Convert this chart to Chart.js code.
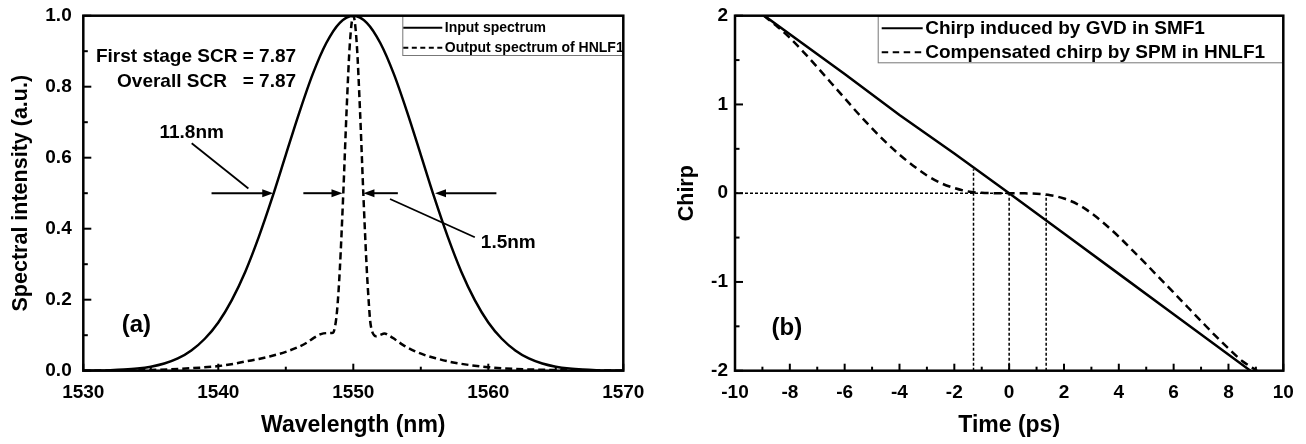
<!DOCTYPE html>
<html>
<head>
<meta charset="utf-8">
<script src="https://cdn.jsdelivr.net/npm/chart.js@4.4.0/dist/chart.umd.min.js"></script>
<style>
  html, body { margin: 0; padding: 0; background: #fff; }
  #wrap { position: relative; width: 1306px; height: 444px; }
  canvas { position: absolute; top: 0; }
  #graficoA { left: 0; }
  #graficoB { left: 653px; }
</style>
</head>
<body>
<div id="wrap">
  <canvas id="graficoA" width="653" height="444"></canvas>
  <canvas id="graficoB" width="653" height="444"></canvas>
</div>
<script>
// ---- dados do painel (a) ----
const inputWavelength = [1530, 1531, 1532, 1533, 1534, 1535, 1536, 1537, 1538, 1539, 1540,
  1541, 1542, 1543, 1544, 1545, 1546, 1547, 1548, 1549, 1550,
  1551, 1552, 1553, 1554, 1555, 1556, 1557, 1558, 1559, 1560,
  1561, 1562, 1563, 1564, 1565, 1566, 1567, 1568, 1569, 1570];
const inputIntensity = [0.0003, 0.0008, 0.0016, 0.0032, 0.0061, 0.0113, 0.0202, 0.0345, 0.057, 0.090, 0.136,
  0.199, 0.279, 0.377, 0.488, 0.608, 0.727, 0.836, 0.923, 0.980, 1.0,
  0.980, 0.923, 0.836, 0.727, 0.608, 0.488, 0.377, 0.279, 0.199, 0.136,
  0.090, 0.057, 0.0345, 0.0202, 0.0113, 0.0061, 0.0032, 0.0016, 0.0008, 0.0003];

const outputWavelength = [1530, 1532, 1534, 1535, 1536.5, 1538.6, 1540, 1541.1, 1542, 1543, 1543.8,
  1545, 1546, 1546.6, 1547.1, 1547.6, 1548.1, 1548.5, 1548.65, 1548.8, 1549, 1549.25, 1549.5, 1549.75,
  1550, 1550.25, 1550.5, 1550.75, 1551, 1551.15, 1551.25, 1551.4, 1551.7, 1552.0, 1552.3, 1552.7,
  1553.1, 1553.7, 1554.5, 1555.3, 1556.1, 1557.3, 1558.6, 1560, 1561.1, 1563, 1564.8, 1567, 1570];
const outputIntensity = [0.0, 0.0005, 0.0015, 0.002, 0.004, 0.0085, 0.013, 0.019, 0.026, 0.033, 0.040,
  0.053, 0.068, 0.080, 0.093, 0.103, 0.106, 0.107, 0.125, 0.17, 0.284, 0.492, 0.73, 0.924,
  1.0, 0.924, 0.73, 0.492, 0.284, 0.19, 0.14, 0.11, 0.097, 0.101, 0.105, 0.098,
  0.088, 0.072, 0.056, 0.044, 0.035, 0.024, 0.016, 0.010, 0.0067, 0.0035, 0.002, 0.0008, 0.0];

const labelsA = ['Input spectrum', 'Output spectrum of HNLF1'];

// setas de largura a meia altura (y = 0.5): [inicio, ponta]
const halfMax = 0.5;
const fwhmArrows = [[1539.5, 1544.07], [1546.3, 1549.2], [1553.3, 1550.75], [1560.6, 1556.05]];
// linhas de chamada: [x1, y1, x2, y2]
const leaderLines = [[1538.03, 0.6406, 1542.23, 0.5133], [1552.72, 0.4837, 1559.0, 0.3758]];
const notesA = [
  { text: 'First stage SCR = 7.87', x: 1545.76, y: 0.8845, align: 'right', size: 19 },
  { text: 'Overall SCR   = 7.87', x: 1545.76, y: 0.814, align: 'right', size: 19 },
  { text: '11.8nm', x: 1538.03, y: 0.6696, align: 'center', size: 19 },
  { text: '1.5nm', x: 1561.48, y: 0.3606, align: 'center', size: 19 },
  { text: '(a)', x: 1533.93, y: 0.1287, align: 'center', size: 24 }
];

// ---- dados do painel (b) ----
const gvdTime = [-8.93, -6, -4, -2, 0, 2, 4, 6, 8.8];
const gvdChirp = [2.0, 1.343, 0.88, 0.448, 0.0, -0.455, -0.909, -1.364, -2.0];

const spmTime = [-8.95, -8.5, -8, -7.5, -7, -6.5, -6, -5.5, -5, -4.5, -4, -3.5, -3, -2.5, -2, -1.5, -1, -0.5,
  0, 0.5, 1, 1.5, 2, 2.5, 3, 3.5, 4, 4.5, 5, 5.5, 6, 6.5, 7, 7.5, 8, 8.5, 9.04];
const spmChirp = [2.0, 1.89, 1.75, 1.59, 1.42, 1.245, 1.07, 0.895, 0.73, 0.575, 0.435, 0.31, 0.20, 0.115, 0.058, 0.02, 0.004, 0.0005,
  0.0, -0.001, -0.006, -0.022, -0.06, -0.125, -0.225, -0.35, -0.49, -0.645, -0.80, -0.96, -1.12, -1.28, -1.44, -1.60, -1.75, -1.89, -2.0];

const labelsB = ['Chirp induced by GVD in SMF1', 'Compensated chirp by SPM in HNLF1'];

// linhas pontilhadas de referencia: [x1, y1, x2, y2]
const guideLines = [[-10, 0, 0, 0], [-1.3, -2, -1.3, 0.27], [0, -2, 0, 0], [1.35, -2, 1.35, -0.02]];
const notesB = [{ text: '(b)', x: -8.11, y: -1.518, align: 'center', size: 24 }];

const fonte = '"Liberation Sans", Arial, sans-serif';
Chart.defaults.font.family = fonte;
Chart.defaults.font.weight = 'bold';
Chart.defaults.color = '#000';

function pontos(xs, ys) {
  return xs.map((x, i) => ({ x: x, y: ys[i] }));
}

function linha(ctx, x1, y1, x2, y2) {
  ctx.beginPath();
  ctx.moveTo(x1, y1);
  ctx.lineTo(x2, y2);
  ctx.stroke();
}

// marcas para dentro + moldura
const marcasInternas = {
  id: 'marcasInternas',
  afterDatasetsDraw(chart) {
    const ctx = chart.ctx;
    const area = chart.chartArea;
    const sx = chart.scales.x;
    const sy = chart.scales.y;
    ctx.save();
    ctx.strokeStyle = '#000';
    ctx.lineWidth = 2;
    ctx.setLineDash([]);
    const xt = sx.ticks.map(t => t.value);
    xt.forEach((v, i) => {
      const px = sx.getPixelForValue(v);
      linha(ctx, px, area.bottom, px, area.bottom - 7);
      if (i < xt.length - 1) {
        const pm = sx.getPixelForValue((v + xt[i + 1]) / 2);
        linha(ctx, pm, area.bottom, pm, area.bottom - 4);
      }
    });
    const yt = sy.ticks.map(t => t.value);
    yt.forEach((v, i) => {
      const py = sy.getPixelForValue(v);
      linha(ctx, area.left, py, area.left + 8, py);
      if (i < yt.length - 1) {
        const pm = sy.getPixelForValue((v + yt[i + 1]) / 2);
        linha(ctx, area.left, pm, area.left + 4.5, pm);
      }
    });
    ctx.restore();
  },
  afterDraw(chart) {
    const ctx = chart.ctx;
    const area = chart.chartArea;
    ctx.save();
    ctx.strokeStyle = '#000';
    ctx.lineWidth = 2.5;
    ctx.setLineDash([]);
    ctx.strokeRect(area.left, area.top, area.right - area.left, area.bottom - area.top);
    ctx.restore();
  }
};

// legenda desenhada dentro da area do grafico
const legendaInterna = {
  id: 'legendaInterna',
  afterDatasetsDraw(chart, args, opts) {
    const ctx = chart.ctx;
    const area = chart.chartArea;
    const x0 = area.right - opts.width;
    const y0 = area.top;
    ctx.save();
    ctx.fillStyle = '#fff';
    ctx.fillRect(x0, y0, opts.width, opts.height);
    ctx.strokeStyle = '#777';
    ctx.lineWidth = 1;
    ctx.strokeRect(x0 + 0.5, y0 + 0.5, opts.width - 1, opts.height - 1);
    ctx.font = 'bold ' + opts.size + 'px ' + fonte;
    ctx.textAlign = 'left';
    ctx.textBaseline = 'middle';
    chart.data.datasets.forEach((ds, i) => {
      const yy = y0 + opts.rows[i];
      ctx.strokeStyle = '#000';
      ctx.lineWidth = 2;
      ctx.setLineDash(opts.dashes[i]);
      linha(ctx, x0 + opts.sample[0], yy, x0 + opts.sample[1], yy);
      ctx.setLineDash([]);
      ctx.fillStyle = '#000';
      ctx.fillText(ds.label, x0 + opts.textX, yy);
    });
    ctx.restore();
  }
};

function seta(ctx, x1, y, x2) {
  const dir = x2 > x1 ? 1 : -1;
  linha(ctx, x1, y, x2 - dir * 8, y);
  ctx.beginPath();
  ctx.moveTo(x2, y);
  ctx.lineTo(x2 - dir * 11, y - 4);
  ctx.lineTo(x2 - dir * 11, y + 4);
  ctx.closePath();
  ctx.fill();
}

function textos(chart, notas) {
  const ctx = chart.ctx;
  const sx = chart.scales.x;
  const sy = chart.scales.y;
  ctx.fillStyle = '#000';
  ctx.textBaseline = 'middle';
  notas.forEach(n => {
    ctx.font = 'bold ' + n.size + 'px ' + fonte;
    ctx.textAlign = n.align;
    ctx.fillText(n.text, sx.getPixelForValue(n.x), sy.getPixelForValue(n.y));
  });
}

const anotacoesA = {
  id: 'anotacoesA',
  afterDatasetsDraw(chart) {
    const ctx = chart.ctx;
    const sx = chart.scales.x;
    const sy = chart.scales.y;
    ctx.save();
    ctx.strokeStyle = '#000';
    ctx.fillStyle = '#000';
    ctx.lineWidth = 2;
    const py = sy.getPixelForValue(halfMax);
    fwhmArrows.forEach(a => seta(ctx, sx.getPixelForValue(a[0]), py, sx.getPixelForValue(a[1])));
    ctx.lineWidth = 1.8;
    leaderLines.forEach(l => linha(ctx, sx.getPixelForValue(l[0]), sy.getPixelForValue(l[1]),
      sx.getPixelForValue(l[2]), sy.getPixelForValue(l[3])));
    textos(chart, notesA);
    ctx.restore();
  }
};

const anotacoesB = {
  id: 'anotacoesB',
  beforeDatasetsDraw(chart) {
    const ctx = chart.ctx;
    const sx = chart.scales.x;
    const sy = chart.scales.y;
    ctx.save();
    ctx.strokeStyle = '#000';
    ctx.lineWidth = 1.5;
    ctx.setLineDash([3, 2]);
    guideLines.forEach(l => linha(ctx, sx.getPixelForValue(l[0]), sy.getPixelForValue(l[1]),
      sx.getPixelForValue(l[2]), sy.getPixelForValue(l[3])));
    ctx.restore();
  },
  afterDatasetsDraw(chart) {
    chart.ctx.save();
    textos(chart, notesB);
    chart.ctx.restore();
  }
};

// eixo linear sem grade; tamanho fixo para a area do grafico ficar no lugar certo
function eixo(min, max, step, titulo, tamanho) {
  return {
    type: 'linear',
    min: min,
    max: max,
    grid: { display: false, drawTicks: false },
    border: { display: false },
    ticks: { stepSize: step, font: { size: 19, weight: 'bold' }, callback: v => String(v) },
    title: { display: true, text: titulo, font: { size: 23, weight: 'bold' } },
    afterFit: s => {
      if (s.isHorizontal()) { s.height = tamanho; } else { s.width = tamanho; }
      s.paddingLeft = 0;
      s.paddingRight = 0;
      s.paddingTop = 0;
      s.paddingBottom = 0;
    }
  };
}

function carregarPainelA() {
  const ctx = document.getElementById('graficoA').getContext('2d');
  window.graficoA = new Chart(ctx, {
    type: 'line',
    data: {
      datasets: [{
        label: labelsA[0],
        data: pontos(inputWavelength, inputIntensity),
        borderColor: '#000',
        borderWidth: 2.5,
        pointRadius: 0,
        cubicInterpolationMode: 'monotone'
      }, {
        label: labelsA[1],
        data: pontos(outputWavelength, outputIntensity),
        borderColor: '#000',
        borderWidth: 2.5,
        borderDash: [7, 4],
        pointRadius: 0,
        cubicInterpolationMode: 'monotone'
      }]
    },
    options: {
      responsive: false,
      animation: false,
      layout: { padding: { left: 0, right: 29.7, top: 15.7, bottom: 0 } },
      plugins: {
        legend: { display: false },
        tooltip: { enabled: false },
        legendaInterna: { width: 221, height: 40.3, size: 14, rows: [12, 32], sample: [1, 40], textX: 42.5, dashes: [[], [5, 3.5]] }
      },
      scales: {
        x: eixo(1530, 1570, 10, 'Wavelength (nm)', 73.3),
        y: eixo(0, 1, 0.2, 'Spectral intensity (a.u.)', 83.3)
      }
    },
    plugins: [anotacoesA, legendaInterna, marcasInternas]
  });
  const o = window.graficoA.options.scales;
  o.x.ticks.padding = 11;
  o.x.title.padding = { top: 0, bottom: 5 };
  o.y.ticks.padding = 11.6;
  o.y.ticks.callback = v => v.toFixed(1);
  o.y.title.font.size = 21.5;
  o.y.title.padding = { top: 7.7, bottom: 0 };
  window.graficoA.update();
}

function carregarPainelB() {
  const ctx = document.getElementById('graficoB').getContext('2d');
  window.graficoB = new Chart(ctx, {
    type: 'line',
    data: {
      datasets: [{
        label: labelsB[0],
        data: pontos(gvdTime, gvdChirp),
        borderColor: '#000',
        borderWidth: 2.5,
        pointRadius: 0,
        tension: 0
      }, {
        label: labelsB[1],
        data: pontos(spmTime, spmChirp),
        borderColor: '#000',
        borderWidth: 2.5,
        borderDash: [8, 5],
        pointRadius: 0,
        cubicInterpolationMode: 'monotone'
      }]
    },
    options: {
      responsive: false,
      animation: false,
      layout: { padding: { left: 0, right: 22.7, top: 15.7, bottom: 0 } },
      plugins: {
        legend: { display: false },
        tooltip: { enabled: false },
        legendaInterna: { width: 405.6, height: 47.6, size: 19, rows: [12.6, 36.6], sample: [4, 45], textX: 47.5, dashes: [[], [6.5, 4.5]] }
      },
      scales: {
        x: eixo(-10, 10, 2, 'Time (ps)', 73.3),
        y: eixo(-2, 2, 1, 'Chirp', 82)
      }
    },
    plugins: [anotacoesB, legendaInterna, marcasInternas]
  });
  const o = window.graficoB.options.scales;
  o.x.ticks.padding = 11;
  o.x.title.padding = { top: 0, bottom: 5 };
  o.y.ticks.padding = 7;
  o.y.title.font.size = 21.5;
  o.y.title.padding = { top: 21.6, bottom: 0 };
  window.graficoB.update();
}

document.addEventListener('DOMContentLoaded', () => {
  carregarPainelA();
  carregarPainelB();
});
</script>
</body>
</html>
